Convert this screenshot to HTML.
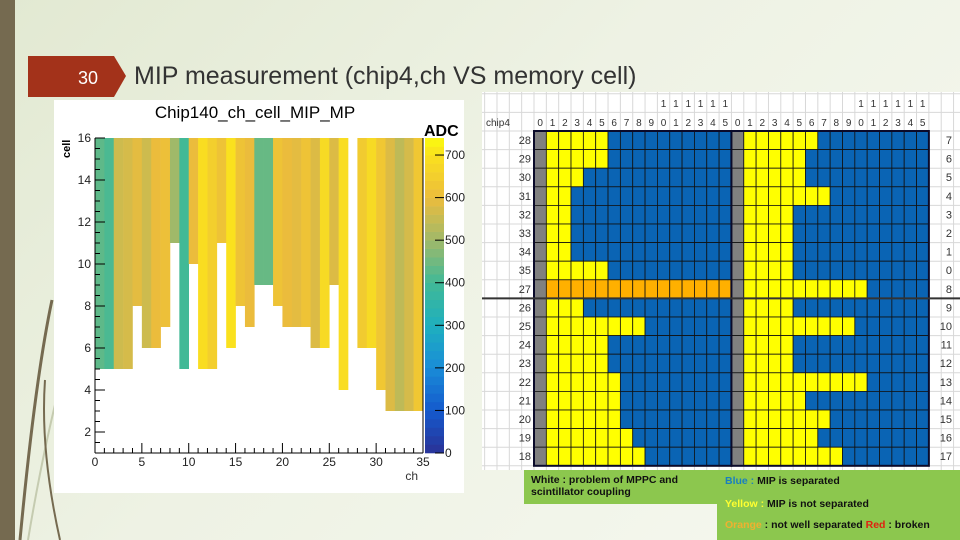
<!DOCTYPE html>
<html><head><meta charset="utf-8"><style>
html,body{margin:0;padding:0;width:960px;height:540px;overflow:hidden}
body{background:linear-gradient(135deg,#e2e9d2 0%,#eef2e4 45%,#f6f8f0 100%);font-family:"Liberation Sans",sans-serif}
svg{position:absolute;left:0;top:0}
</style></head><body>
<svg id="s" width="960" height="540" viewBox="0 0 960 540" xmlns="http://www.w3.org/2000/svg">
 <rect x="0" y="0" width="15" height="540" fill="#756a50"/>
 <path d="M20 540 Q35 380 52 300" stroke="#756a50" stroke-width="3" fill="none"/>
 <path d="M28 540 Q48 420 75 330" stroke="#c5cbb0" stroke-width="2" fill="none"/>
 <path d="M60 540 Q40 450 45 380" stroke="#756a50" stroke-width="2" fill="none"/>
 <polygon points="28,56 114,56 126,76 114,97 28,97" fill="#a3321a"/>
 <text x="88" y="84" font-size="18" fill="#fff" text-anchor="middle">30</text>
 <text x="134" y="84" font-size="25" fill="#333">MIP measurement (chip4,ch VS memory cell)</text>

 <rect x="54" y="100" width="410" height="393" fill="#fff"/>
 <text x="255" y="118" font-size="17" text-anchor="middle" fill="#000">Chip140_ch_cell_MIP_MP</text>
 <g id="hm"></g>
 <g id="cb"></g>
 <text x="424" y="136" font-size="16" font-weight="bold">ADC</text>
 <text x="0" y="0" font-size="11" font-weight="bold" transform="translate(70,158) rotate(-90)">cell</text>
 <text x="418" y="480" font-size="12" fill="#333" text-anchor="end">ch</text>

 <rect x="482" y="92" width="478" height="378" fill="#fff"/>
 <g id="sheet"></g>

 <rect x="524" y="470" width="196" height="34" fill="#8cc74e"/>
 <rect x="717" y="470" width="243" height="70" fill="#8cc74e"/>
 <g font-size="10.5" font-weight="bold" fill="#111">
  <text x="531" y="483">White : problem of MPPC and</text>
  <text x="531" y="495">scintillator coupling</text>
  <text x="725" y="484"><tspan fill="#1a7fc0">Blue : </tspan>MIP is separated</text>
  <text x="725" y="507"><tspan fill="#ffff30">Yellow : </tspan>MIP is not separated</text>
  <text x="725" y="528"><tspan fill="#f0b030">Orange</tspan> : not well separated <tspan fill="#e02010">Red</tspan> : broken</text>
 </g>
</svg>
<script>
// ---- heatmap data ----
const channels=[0,1,2,3,4,5,6,7,8,9,10,11,12,13,14,15,16,17,18,19,20,21,22,23,24,25,26,27,28,29,30,31,32,33,34];
const adcValues=[430,410,560,570,590,560,600,610,500,400,600,690,650,620,700,620,600,440,440,620,600,590,620,580,680,580,690,null,640,680,630,580,540,570,630];
const lowestCell=[5,5,5,5,8,6,6,7,11,5,10,5,5,11,6,8,7,9,9,8,7,7,7,6,6,9,4,16,6,6,4,3,3,3,3];
const yTicks=[2,4,6,8,10,12,14,16];
const xTicks=[0,5,10,15,20,25,30,35];
const cbTicks=[0,100,200,300,400,500,600,700];
// ---- sheet data ----
const leftRows=[28,29,30,31,32,33,34,35,27,26,25,24,23,22,21,20,19,18];
const leftYellowEnd=[6,6,4,3,3,3,3,6,16,4,9,6,6,7,7,7,8,9];
const leftOrangeRow=[0,0,0,0,0,0,0,0,1,0,0,0,0,0,0,0,0,0];
const rightRows=[7,6,5,4,3,2,1,0,8,9,10,11,12,13,14,15,16,17];
const rightYellowEnd=[7,6,6,8,5,5,5,5,11,5,10,5,5,11,6,8,7,9];

const NS="http://www.w3.org/2000/svg";
function mk(tag,attrs,parent){const e=document.createElementNS(NS,tag);for(const k in attrs)e.setAttribute(k,attrs[k]);parent.appendChild(e);return e;}
const X0=95,X1=423,Y0=453,Y1=138;
const xS=c=>X0+c*(X1-X0)/35;
const yS=v=>Y0-(v-1)*(Y0-Y1)/15;
const cmStops=[[0,[42,50,150]],[100,[20,90,205]],[200,[25,140,215]],[300,[30,175,190]],[400,[65,185,150]],[500,[160,185,105]],[600,[235,188,60]],[700,[250,225,30]],[740,[250,250,15]]];
function cmap(v){for(let i=1;i<cmStops.length;i++){if(v<=cmStops[i][0]){const a=cmStops[i-1],b=cmStops[i];const t=(v-a[0])/(b[0]-a[0]);const c=a[1].map((x,j)=>Math.round(x+(b[1][j]-x)*t));return `rgb(${c})`;}}return "rgb(250,250,15)";}
const hm=document.getElementById('hm');
channels.forEach((ch,i)=>{
 if(adcValues[i]==null)return;
 const r=mk('rect',{x:xS(ch),y:yS(16),width:xS(ch+1)-xS(ch)+0.3,height:yS(lowestCell[i])-yS(16),fill:cmap(adcValues[i])},hm);
 
 
});
mk('line',{x1:X0,y1:Y0,x2:X1,y2:Y0,stroke:'#000'},hm);
mk('line',{x1:X0,y1:Y0,x2:X0,y2:Y1,stroke:'#000'},hm);
mk('line',{x1:X1,y1:Y0,x2:X1,y2:Y1,stroke:'#000'},hm);
for(let c=1;c<=16;c+=0.5){const major=yTicks.includes(c);mk('line',{x1:X0,y1:yS(c),x2:X0+(major?10:5),y2:yS(c),stroke:'#000'},hm);}
yTicks.forEach(t=>{const e=mk('text',{x:X0-4,y:yS(t)+4,'font-size':12,'text-anchor':'end',fill:'#222'},hm);e.textContent=t;
 
 });
for(let c=0;c<=35;c++){const major=c%5===0;mk('line',{x1:xS(c),y1:Y0,x2:xS(c),y2:Y0-(major?10:5),stroke:'#000'},hm);}
xTicks.forEach(t=>{const e=mk('text',{x:xS(t),y:Y0+13,'font-size':12,'text-anchor':'middle',fill:'#222'},hm);e.textContent=t;
 
 });
// color bar
const cb=document.getElementById('cb');
const CBX=425,CBW=19,vmax=740;const cbY=v=>Y0-v*(Y0-Y1)/vmax;
for(let v=0;v<vmax;v+=20){mk('rect',{x:CBX,y:cbY(v+20),width:CBW,height:cbY(v)-cbY(v+20)+0.3,fill:cmap(v+10)},cb);}
cbTicks.forEach(t=>{mk('line',{x1:CBX+CBW-9,y1:cbY(t),x2:CBX+CBW,y2:cbY(t),stroke:'#000'},cb);
 const e=mk('text',{x:CBX+CBW+1,y:cbY(t)+4,'font-size':12,fill:'#222'},cb);e.textContent=t;
 
 });
// sheet
const sh=document.getElementById('sheet');
const GX=534,GY=131,CW=12.34,RH=18.6;
for(let x=GX-CW*4;x<=962;x+=CW)mk('line',{x1:x,y1:92,x2:x,y2:470,stroke:'#d8d8d8'},sh);
for(let y=GY-RH*2;y<=472;y+=RH)mk('line',{x1:482,y1:y,x2:960,y2:y,stroke:'#d8d8d8'},sh);
const hdr=mk('text',{x:486,y:126,'font-size':10,fill:'#333'},sh);hdr.textContent='chip4';
for(let h=0;h<2;h++){for(let c=0;c<16;c++){const cx=GX+(h*16+c+0.5)*CW;
 const t=mk('text',{x:cx,y:126,'font-size':10,'text-anchor':'middle',fill:'#333'},sh);t.textContent=c%10;
 if(c>=10){const t2=mk('text',{x:cx,y:107,'font-size':10,'text-anchor':'middle',fill:'#333'},sh);t2.textContent='1';}}}
function half(rows,ends,orange,h){
 rows.forEach((lab,r)=>{
  for(let c=0;c<16;c++){
   let f=c===0?'#808080':(c<ends[r]?(orange&&orange[r]?'#ffb000':'#ffff00'):'#0a64b4');
   const e=mk('rect',{x:GX+(h*16+c)*CW,y:GY+r*RH,width:CW,height:RH,fill:f,stroke:'#111','stroke-width':0.8},sh);
   
   
  }
  const tx=h===0?GX-3:952;
  const t=mk('text',{x:tx,y:GY+r*RH+13,'font-size':11,'text-anchor':'end',fill:'#333'},sh);t.textContent=lab;
  
  
 });
 mk('rect',{x:GX+h*16*CW,y:GY,width:16*CW,height:rows.length*RH,fill:'none',stroke:'#0a0a2a','stroke-width':2},sh);
}
half(leftRows,leftYellowEnd,leftOrangeRow,0);
half(rightRows,rightYellowEnd,null,1);
mk('line',{x1:482,y1:GY+9*RH,x2:960,y2:GY+9*RH,stroke:'#333','stroke-width':2},sh);
</script>
</body></html>
